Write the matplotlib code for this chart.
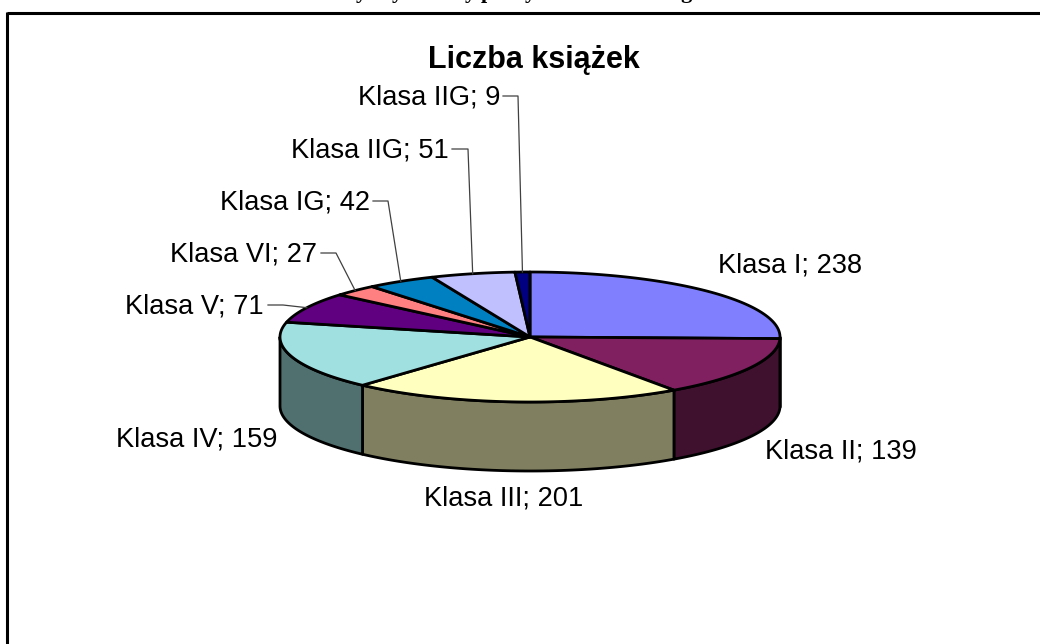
import numpy as np
import matplotlib
matplotlib.use("Agg")
import matplotlib.pyplot as plt

# ---- data ----
categories = ["Klasa I", "Klasa II", "Klasa III", "Klasa IV", "Klasa V",
              "Klasa VI", "Klasa IG", "Klasa IIG", "Klasa IIG"]
values = [238, 139, 201, 159, 71, 27, 42, 51, 9]
top_colors = ["#8080FF", "#802060", "#FFFFC0", "#A0E0E0", "#600080",
              "#FF8080", "#0080C0", "#C0C0FF", "#000080"]
side_colors = ["#40406F", "#40102F", "#808060", "#507070", "#300040",
               "#804040", "#004060", "#606080", "#000040"]
title = "Liczba książek"

# ---- layout (pixels) ----
W, H = 1040, 644
CX, CY, RX, RY, DEPTH = 530, 337, 250, 65, 69
# centre of each label: x, y, and whether it has a leader line
label_pos = [(790, 265), (841, 451), (504, 498), (197, 439), (194, 306),
             (244, 254), (295, 202), (370, 150), (429, 97)]
leader_from = [None, None, None, None, (268, 283), (321, 336), (373, 388),
               (452, 468), (503, 518)]
leader_y = [None, None, None, None, 305, 253, 201, 149, 96]
clipped_bits = [("y", 361), ("y", 397), ("y", 470), ("p", 487), ("y", 530), ("g", 686)]

plt.rcParams["font.family"] = ["Liberation Sans", "DejaVu Sans"]
fig = plt.figure(figsize=(W / 100, H / 100), dpi=100, facecolor="white")
ax = fig.add_axes([0, 0, 1, 1])
ax.set_xlim(0, W)
ax.set_ylim(H, 0)
ax.axis("off")


def ell(theta_deg):
    """Clockwise angle from the top of the pie -> pixel coordinates on the rim."""
    t = np.radians(theta_deg)
    return CX + RX * np.sin(t), CY - RY * np.cos(t)


total = sum(values)
edges = np.concatenate([[0], np.cumsum(values)]) / total * 360
EC = "black"
LW = 2.0

# side walls: only the front half of the rim, 90..270 degrees clockwise from top
for i in range(len(values)):
    a, b = max(edges[i], 90), min(edges[i + 1], 270)
    if b <= a:
        continue
    th = np.linspace(a, b, 120)
    x, y = ell(th)
    ax.fill(np.concatenate([x, x[::-1]]), np.concatenate([y, y[::-1] + DEPTH]),
            facecolor=side_colors[i], edgecolor=EC, lw=LW, joinstyle="round", zorder=2)

# top faces
for i in range(len(values)):
    th = np.linspace(edges[i], edges[i + 1], 120)
    x, y = ell(th)
    ax.fill(np.concatenate([[CX], x]), np.concatenate([[CY], y]),
            facecolor=top_colors[i], edgecolor=EC, lw=LW, joinstyle="round", zorder=3)

# labels and leader lines
for i, (cat, val) in enumerate(zip(categories, values)):
    lx, ly = label_pos[i]
    ax.text(lx, ly, f"{cat}; {val}", fontsize=19.6, ha="center", va="center",
            color="black", zorder=5)
    if leader_from[i] is not None:
        ax_, ay_ = ell((edges[i] + edges[i + 1]) / 2)
        x0, x1 = leader_from[i]
        ax.plot([x0, x1, ax_], [leader_y[i], leader_y[i], ay_],
                color="#404040", lw=0.9, zorder=4)

ax.text(534, 60, title, fontsize=22, fontweight="bold", ha="center", va="center",
        color="black", zorder=5)

# frame: top and left edges only are inside the picture
ax.plot([6.5, W + 5], [12.5, 12.5], color="black", lw=2.2, solid_capstyle="butt", zorder=6)
ax.plot([6.5, 6.5], [11.5, H + 5], color="black", lw=2.2, solid_capstyle="butt", zorder=6)

# the line of body text above the frame, cut off by the picture's top edge
for s, x in clipped_bits:
    ax.text(x, -2, s, fontsize=16, fontweight="bold", family=["Liberation Serif"],
            ha="center", va="baseline", color="black", zorder=5, clip_on=False)

fig.savefig("out.png", dpi=100, facecolor="white")
